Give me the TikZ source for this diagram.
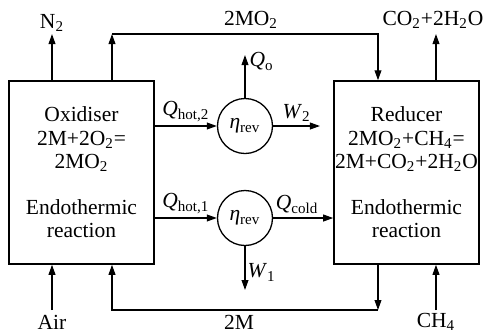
\documentclass[tikz,border=0pt]{standalone}
\usepackage{fontspec}
\setmainfont{Liberation Serif}
\usetikzlibrary{arrows.meta}

\tikzset{
  flow/.style={draw, line width=.65pt, -{Triangle[length=5pt,width=3.4pt]}},
  unit/.style={draw, line width=.75pt, rectangle, minimum width=72.5pt, minimum height=91.5pt,
    inner sep=0pt, align=center},
  engine/.style={draw, line width=.65pt, circle, minimum size=27.5pt, inner sep=0pt},
}

\begin{document}
\begin{tikzpicture}[x=.5pt,y=-.5pt]

      \useasboundingbox (0,0) rectangle (484,334);

      \begin{scope}[every node/.style={font=\fontsize{10.75pt}{11.6pt}\selectfont}]
        \node[unit] (ox)  at (81.5,172.5) {Oxidiser\\2M+2O\textsubscript{2}=\\2MO\textsubscript{2}\\[11.6pt]Endothermic\\reaction};
        \node[unit] (red) at (406.5,172.5) {Reducer\\2MO\textsubscript{2}+CH\textsubscript{4}=\\2M+CO\textsubscript{2}+2H\textsubscript{2}O\\[11.6pt]Endothermic\\reaction};
        \node[engine] (e2) at (245,126) {\textit{η}\textsubscript{rev}};
        \node[engine] (e1) at (245,218) {\textit{η}\textsubscript{rev}};
      \end{scope}

      % ends of the feed and product lines
      \coordinate (n2)  at (52,34);
      \coordinate (air) at (52,310);
      \coordinate (co)  at (436,34);
      \coordinate (ch)  at (436,310);
      \coordinate (tl)  at (112,34);
      \coordinate (tr)  at (378,34);
      \coordinate (bl)  at (112,310);
      \coordinate (br)  at (378,310);
      \coordinate (qo)  at (245,55);
      \coordinate (w2)  at (320,126);
      \coordinate (w1)  at (245,290);

      \begin{scope}[every node/.style={font=\fontsize{10.75pt}{11.6pt}\selectfont, inner sep=0pt}]
        \node[anchor=base] (n2lbl)  at (52,28)  {N\textsubscript{2}};
        \node[anchor=base] (mo2lbl) at (251,25) {2MO\textsubscript{2}};
        \node[anchor=base] (colbl)  at (433,25) {CO\textsubscript{2}+2H\textsubscript{2}O};
        \node[anchor=base] (airlbl) at (52,329) {Air};
        \node[anchor=base] (mlbl)   at (239,329) {2M};
        \node[anchor=base] (chlbl)  at (436,327) {CH\textsubscript{4}};
      \end{scope}

      % loops of the metal and its oxide
      \draw[flow] (ox.north -| tl) -- (tl);
      \draw[flow] (tl) -- (tr) -- (red.north -| tr);
      \draw[flow] (red.south -| br) -- (br);
      \draw[flow] (br) -- (bl) -- (ox.south -| bl);

      \draw[flow] (ox.north -| n2) -- (n2);
      \draw[flow] (red.north -| co) -- (co);
      \draw[flow] (air) -- (ox.south -| air);
      \draw[flow] (ch) -- (red.south -| ch);

      \begin{scope}[every node/.style={font=\fontsize{10.75pt}{11.6pt}\selectfont, inner sep=2pt}]
        \begin{scope}[every edge/.style={flow}]
          \path (ox.east |- e2) edge node[above] {\textit{Q}\textsubscript{hot,2}} (e2);
          \path (e2) edge node[above] {\textit{W}\textsubscript{2}} (w2);
          \path (e2) edge node[right, pos=.85] {\textit{Q}\textsubscript{o}} (qo);
          \path (ox.east |- e1) edge node[above] {\textit{Q}\textsubscript{hot,1}} (e1);
          \path (e1) edge node[above, pos=.4] {\textit{Q}\textsubscript{cold}} (red.west |- e1);
          \path (e1) edge node[right, pos=.6, inner sep=1pt] {\textit{W}\textsubscript{1}} (w1);
        \end{scope}
      \end{scope}

    \end{tikzpicture}
\end{document}
